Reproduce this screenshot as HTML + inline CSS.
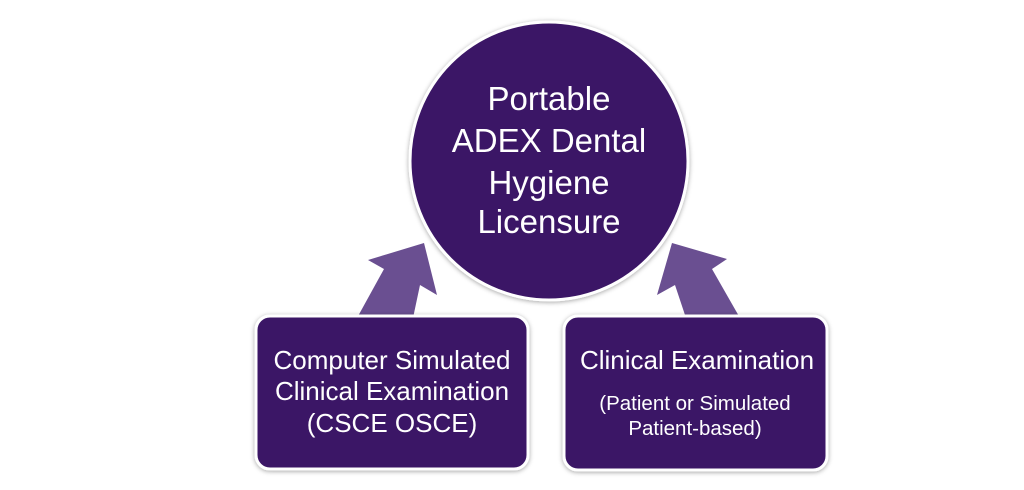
<!DOCTYPE html>
<html><head><style>
body{margin:0;background:#fff;width:1024px;height:485px;overflow:hidden;font-family:"Liberation Sans",sans-serif}
</style></head><body>
<svg width="1024" height="485" viewBox="0 0 1024 485">
<defs><filter id="s" x="-20%" y="-20%" width="140%" height="140%"><feDropShadow dx="0" dy="1" stdDeviation="2.5" flood-color="#000" flood-opacity="0.35"/></filter></defs>
<polygon points="357,318 384,269 368,260 424,243 437,295 420,285 413,318" fill="#6a4f91"/>
<polygon points="740,318 712,269 727,259 672,243 657,295 675,285 686,318" fill="#6a4f91"/>
<circle cx="549" cy="161" r="139" fill="#3b1766" stroke="#fff" stroke-width="3" filter="url(#s)"/>
<rect x="256" y="316" width="272" height="153" rx="14" fill="#3b1766" stroke="#fff" stroke-width="3" filter="url(#s)"/>
<rect x="564" y="316" width="263" height="154" rx="14" fill="#3b1766" stroke="#fff" stroke-width="3" filter="url(#s)"/>
<g fill="#fff" text-anchor="middle" font-family="Liberation Sans, sans-serif">
<text x="549" y="110" font-size="33">Portable</text>
<text x="549" y="152" font-size="33">ADEX Dental</text>
<text x="549" y="194" font-size="33">Hygiene</text>
<text x="549" y="233" font-size="33">Licensure</text>
<text x="392" y="369" font-size="26">Computer Simulated</text>
<text x="392" y="400" font-size="26">Clinical Examination</text>
<text x="392" y="432" font-size="26">(CSCE OSCE)</text>
<text x="697" y="369" font-size="26">Clinical Examination</text>
<text x="695" y="410" font-size="20.5">(Patient or Simulated</text>
<text x="695" y="435" font-size="20.5">Patient-based)</text>
</g>
</svg>
</body></html>
